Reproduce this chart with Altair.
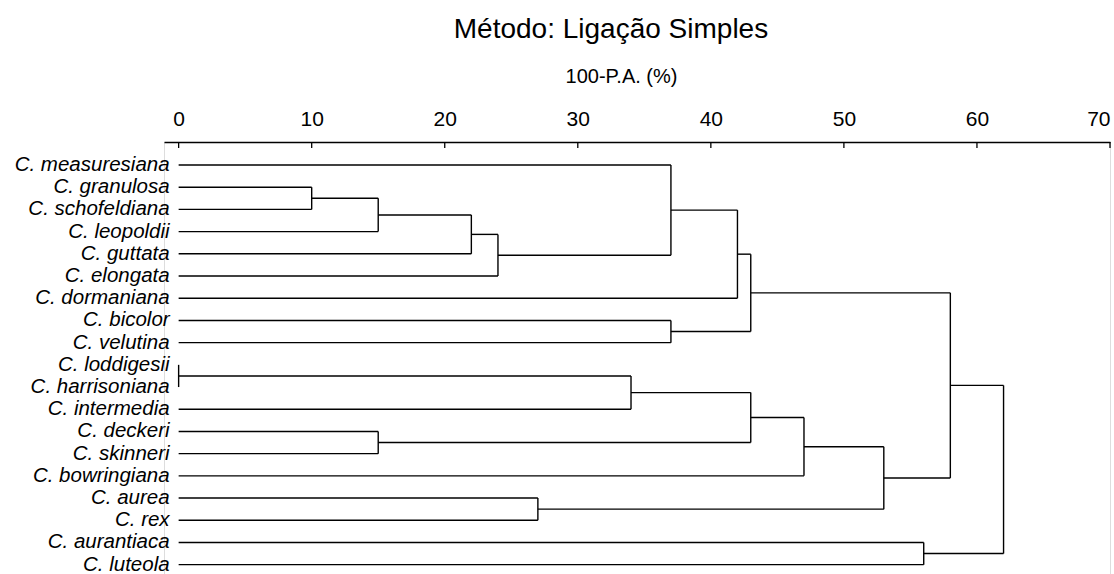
import altair as alt
import pandas as pd

# Leaves (top to bottom)
leaves = [
    "C. measuresiana", "C. granulosa", "C. schofeldiana", "C. leopoldii",
    "C. guttata", "C. elongata", "C. dormaniana", "C. bicolor", "C. velutina",
    "C. loddigesii", "C. harrisoniana", "C. intermedia", "C. deckeri",
    "C. skinneri", "C. bowringiana", "C. aurea", "C. rex", "C. aurantiaca",
    "C. luteola",
]
# Merges: node ids 0..18 are leaves, merge k creates node 19+k
merge_a = [9, 1, 20, 21, 22, 0, 24, 7, 25, 19, 12, 28, 30, 15, 31, 27, 17, 34]
merge_b = [10, 2, 3, 4, 5, 23, 6, 8, 26, 11, 13, 29, 14, 16, 32, 33, 18, 35]
merge_h = [0, 10, 15, 22, 24, 37, 42, 37, 43, 34, 15, 43, 47, 27, 53, 58, 56, 62]
tick_values = [0, 10, 20, 30, 40, 50, 60, 70]

# Build dendrogram segments
pos = {i: float(i) for i in range(len(leaves))}
hgt = {i: 0.0 for i in range(len(leaves))}
segs = []
for k, (a, b, h) in enumerate(zip(merge_a, merge_b, merge_h)):
    nid = len(leaves) + k
    segs.append({"x": hgt[a], "x2": h, "y": pos[a], "y2": pos[a]})
    segs.append({"x": hgt[b], "x2": h, "y": pos[b], "y2": pos[b]})
    segs.append({"x": h, "x2": h, "y": pos[a], "y2": pos[b]})
    pos[nid] = (pos[a] + pos[b]) / 2
    hgt[nid] = h
seg_df = pd.DataFrame(segs)
leaf_df = pd.DataFrame({"name": leaves, "idx": list(range(len(leaves))), "x0": [0] * len(leaves)})
tick_df = pd.DataFrame({"v": tick_values})

FONT = "Liberation Sans"
xscale = alt.Scale(domain=[-1.1, 70], nice=False, zero=False)
yscale = alt.Scale(domain=[-1.036, 18.42], nice=False, zero=False, reverse=True)
xaxis = alt.Axis(
    orient="top", values=tick_values, tickSize=0, grid=False,
    labelFont=FONT, labelFontSize=21, labelColor="black", labelPadding=13,
    domainColor="black", domainWidth=1.3,
    title="100-P.A. (%)", titleFont=FONT, titleFontSize=20, titleFontWeight="normal",
    titleColor="black", titleX=457, titleY=-60, titleBaseline="alphabetic",
    titleAlign="center",
)

lines = alt.Chart(seg_df).mark_rule(color="black", strokeWidth=1.4).encode(
    x=alt.X("x:Q", scale=xscale, axis=xaxis),
    x2="x2:Q",
    y=alt.Y("y:Q", scale=yscale, axis=None),
    y2="y2:Q",
)

ticks = alt.Chart(tick_df).mark_rule(color="black", strokeWidth=1.3).encode(
    x=alt.X("v:Q", scale=xscale, axis=xaxis),
    y=alt.value(0),
    y2=alt.value(6),
)

labels = alt.Chart(leaf_df).mark_text(
    align="right", baseline="middle", dx=-9, font=FONT, fontSize=20.5,
    fontStyle="italic", color="black",
).encode(
    x=alt.X("x0:Q", scale=xscale, axis=xaxis),
    y=alt.Y("idx:Q", scale=yscale, axis=None),
    text="name:N",
)

chart = alt.layer(lines, ticks, labels).properties(
    width=946,
    height=432,
    autosize=alt.AutoSizeParams(type="none"),
    padding={"left": 164, "top": 142, "right": 4, "bottom": 0},
    title=alt.TitleParams(
        text="Método: Ligação Simples", font=FONT, fontSize=28,
        fontWeight="normal", color="black", anchor="middle", frame="group",
        dx=-26, offset=22,
    ),
).configure_view(strokeWidth=0).configure(background="white")

chart.save("out.html", embed_options={"renderer": "svg", "actions": False})
